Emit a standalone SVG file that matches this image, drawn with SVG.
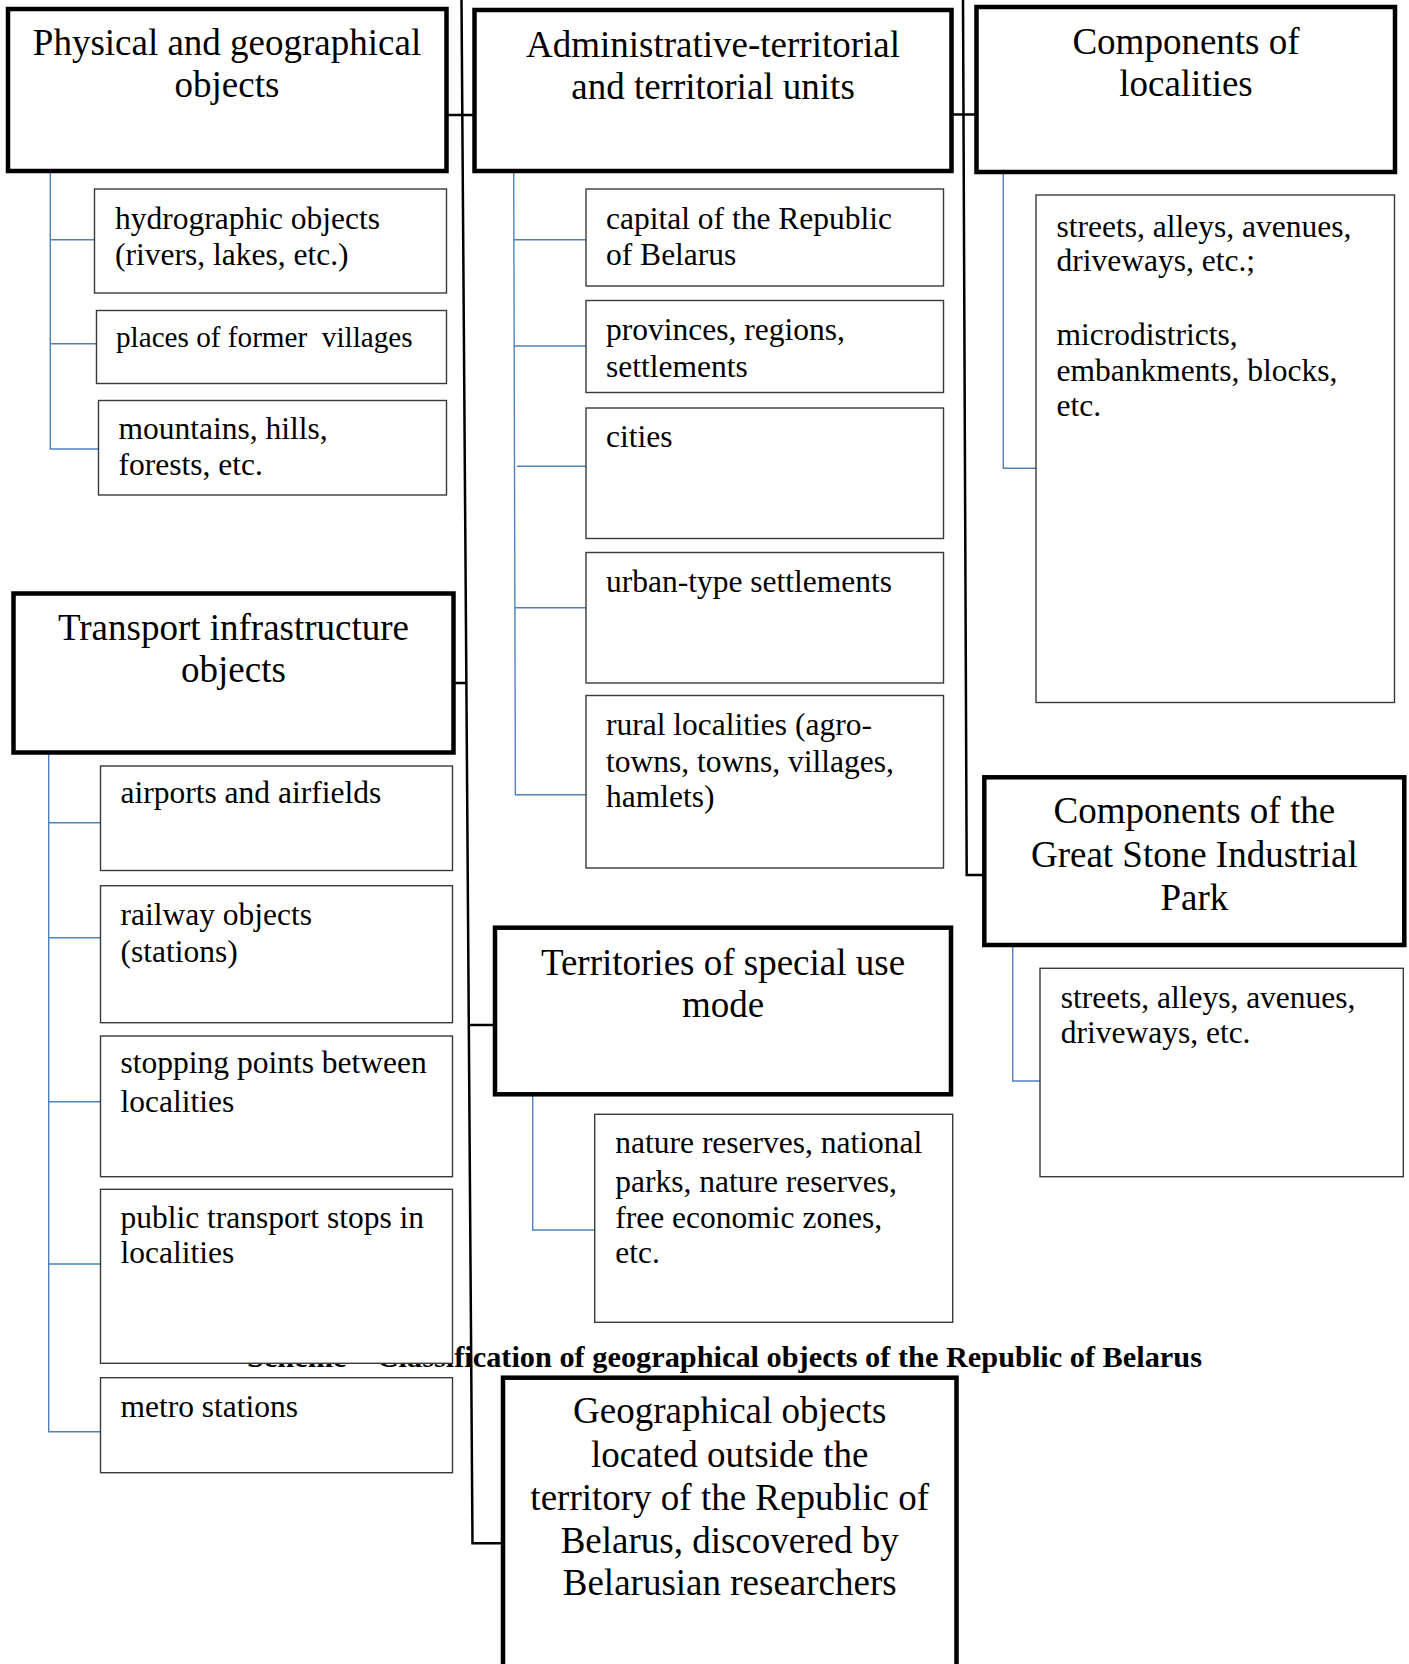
<svg xmlns="http://www.w3.org/2000/svg" width="1409" height="1664" viewBox="0 0 1409 1664">
<style>
  .main { fill: #fff; stroke: #000; stroke-width: 4.5; }
  .sub { fill: #fff; stroke: #3a3a3a; stroke-width: 1.4; }
  .h { font-family: "Liberation Serif", "Times New Roman", serif; font-size: 37px; fill: #000; text-anchor: middle; }
  .t { font-family: "Liberation Serif", "Times New Roman", serif; font-size: 31.5px; fill: #000; }
  .cap { font-family: "Liberation Serif", "Times New Roman", serif; font-size: 30px; font-weight: bold; fill: #000; }
  .trunk { fill: none; stroke: #000; stroke-width: 2.5; }
  .blue { fill: none; stroke: #4F81BD; stroke-width: 1.4; }
</style>
<rect width="1409" height="1664" fill="#fff"/>

<text id="caption" class="cap" x="247" y="1367" textLength="955" lengthAdjust="spacingAndGlyphs">Scheme – Classification of geographical objects of the Republic of Belarus</text>

<g id="connectors">
  <polyline class="trunk" points="461.5,0 472.5,1543.3 503,1543.3"/>
  <polyline class="trunk" points="963,0 966.7,875 984.3,875"/>
  <line class="trunk" x1="446.7" y1="115" x2="474.7" y2="115"/>
  <line class="trunk" x1="951.3" y1="114.5" x2="976.7" y2="114.5"/>
  <line class="trunk" x1="453.5" y1="683" x2="466.5" y2="683"/>
  <line class="trunk" x1="469" y1="1025" x2="495" y2="1025"/>

  <path class="blue" d="M50.3,173 V449 H98.5 M50.3,239.7 H94.5 M50.3,343.7 H96.5"/>
  <path class="blue" d="M513.7,171 L515.4,794.7 H586 M513.8,239.7 H586 M513.9,346 H586 M517,466.3 H586 M515,607.7 H586"/>
  <path class="blue" d="M1003.3,172 V468.3 H1036"/>
  <path class="blue" d="M48.7,753 V1431.7 H100.5 M48.7,822.7 H100.5 M48.7,937.7 H100.5 M48.7,1101.7 H100.5 M48.7,1264 H100.5"/>
  <path class="blue" d="M532.7,1094.3 V1230 H594.7"/>
  <path class="blue" d="M1012.7,945 V1081 H1040"/>
</g>

<g id="physical">
  <rect class="main" x="8" y="9" width="438.5" height="162"/>
  <text class="h" x="227" y="55">Physical and geographical</text>
  <text class="h" x="227" y="97">objects</text>
</g>
<g id="hydro">
  <rect class="sub" x="94.5" y="189" width="352" height="104"/>
  <text class="t" x="115" y="228.5">hydrographic objects</text>
  <text class="t" x="115" y="265">(rivers, lakes, etc.)</text>
</g>
<g id="places">
  <rect class="sub" x="96.5" y="310.5" width="350" height="73"/>
  <text class="t" x="116" y="346.5" style="font-size:29.2px" xml:space="preserve">places of former  villages</text>
</g>
<g id="mountains">
  <rect class="sub" x="98.5" y="400.5" width="348" height="94.5"/>
  <text class="t" x="118.5" y="438.5">mountains, hills,</text>
  <text class="t" x="118.5" y="475">forests, etc.</text>
</g>

<g id="admin">
  <rect class="main" x="474.5" y="10" width="477" height="161"/>
  <text class="h" x="713" y="56.7">Administrative-territorial</text>
  <text class="h" x="713" y="99.3">and territorial units</text>
</g>
<g id="capital">
  <rect class="sub" x="586" y="189" width="357.5" height="97"/>
  <text class="t" x="606" y="228.5">capital of the Republic</text>
  <text class="t" x="606" y="265">of Belarus</text>
</g>
<g id="provinces">
  <rect class="sub" x="586" y="300.5" width="357.5" height="92"/>
  <text class="t" x="606" y="340">provinces, regions,</text>
  <text class="t" x="606" y="376.7">settlements</text>
</g>
<g id="cities">
  <rect class="sub" x="586" y="408" width="357.5" height="130.5"/>
  <text class="t" x="606" y="446.7">cities</text>
</g>
<g id="urban">
  <rect class="sub" x="586" y="552.5" width="357.5" height="130.5"/>
  <text class="t" x="606" y="591.7">urban-type settlements</text>
</g>
<g id="rural">
  <rect class="sub" x="586" y="695.5" width="357.5" height="172.5"/>
  <text class="t" x="606" y="735">rural localities (agro-</text>
  <text class="t" x="606" y="771.7">towns, towns, villages,</text>
  <text class="t" x="606" y="806.7">hamlets)</text>
</g>

<g id="localities">
  <rect class="main" x="976.5" y="7" width="418.5" height="165"/>
  <text class="h" x="1186" y="54.2">Components of</text>
  <text class="h" x="1186" y="96.4">localities</text>
</g>
<g id="localities-items">
  <rect class="sub" x="1036" y="195" width="358.5" height="507.5"/>
  <text class="t" x="1056.5" y="236.5">streets, alleys, avenues,</text>
  <text class="t" x="1056.5" y="271">driveways, etc.;</text>
  <text class="t" x="1056.5" y="344.5">microdistricts,</text>
  <text class="t" x="1056.5" y="381">embankments, blocks,</text>
  <text class="t" x="1056.5" y="415.5">etc.</text>
</g>

<g id="transport">
  <rect class="main" x="13.5" y="593.5" width="440" height="159"/>
  <text class="h" x="233.5" y="640">Transport infrastructure</text>
  <text class="h" x="233.5" y="681.7">objects</text>
</g>
<g id="airports">
  <rect class="sub" x="100.5" y="766" width="352" height="104.5"/>
  <text class="t" x="120.5" y="803.3">airports and airfields</text>
</g>
<g id="railway">
  <rect class="sub" x="100.5" y="885.7" width="352" height="137"/>
  <text class="t" x="120.5" y="925">railway objects</text>
  <text class="t" x="120.5" y="961.7">(stations)</text>
</g>
<g id="stopping">
  <rect class="sub" x="100.5" y="1036" width="352" height="140.7"/>
  <text class="t" x="120.5" y="1073.3">stopping points between</text>
  <text class="t" x="120.5" y="1111.7">localities</text>
</g>
<g id="public">
  <rect class="sub" x="100.5" y="1189.3" width="352" height="174"/>
  <text class="t" x="120.5" y="1228.3">public transport stops in</text>
  <text class="t" x="120.5" y="1263.3">localities</text>
</g>
<g id="metro">
  <rect class="sub" x="100.5" y="1377.7" width="352" height="95"/>
  <text class="t" x="120.5" y="1416.7">metro stations</text>
</g>

<g id="special">
  <rect class="main" x="495" y="927.7" width="456" height="166.6"/>
  <text class="h" x="723" y="975">Territories of special use</text>
  <text class="h" x="723" y="1016.7">mode</text>
</g>
<g id="special-items">
  <rect class="sub" x="594.7" y="1114.3" width="358" height="208"/>
  <text class="t" x="615.3" y="1153.3">nature reserves, national</text>
  <text class="t" x="615.3" y="1191.7">parks, nature reserves,</text>
  <text class="t" x="615.3" y="1228.3">free economic zones,</text>
  <text class="t" x="615.3" y="1263.3">etc.</text>
</g>

<g id="greatstone">
  <rect class="main" x="984.3" y="777.3" width="420" height="167.7"/>
  <text class="h" x="1194.3" y="823.3">Components of the</text>
  <text class="h" x="1194.3" y="866.7">Great Stone Industrial</text>
  <text class="h" x="1194.3" y="910">Park</text>
</g>
<g id="greatstone-items">
  <rect class="sub" x="1040" y="968.3" width="363.3" height="208.4"/>
  <text class="t" x="1060.7" y="1008.3">streets, alleys, avenues,</text>
  <text class="t" x="1060.7" y="1043.3">driveways, etc.</text>
</g>

<g id="outside">
  <rect class="main" x="503" y="1377.7" width="453.5" height="330"/>
  <text class="h" x="729.7" y="1423.3">Geographical objects</text>
  <text class="h" x="729.7" y="1466.7">located outside the</text>
  <text class="h" x="729.7" y="1510">territory of the Republic of</text>
  <text class="h" x="729.7" y="1553.3">Belarus, discovered by</text>
  <text class="h" x="729.7" y="1595">Belarusian researchers</text>
</g>
</svg>
